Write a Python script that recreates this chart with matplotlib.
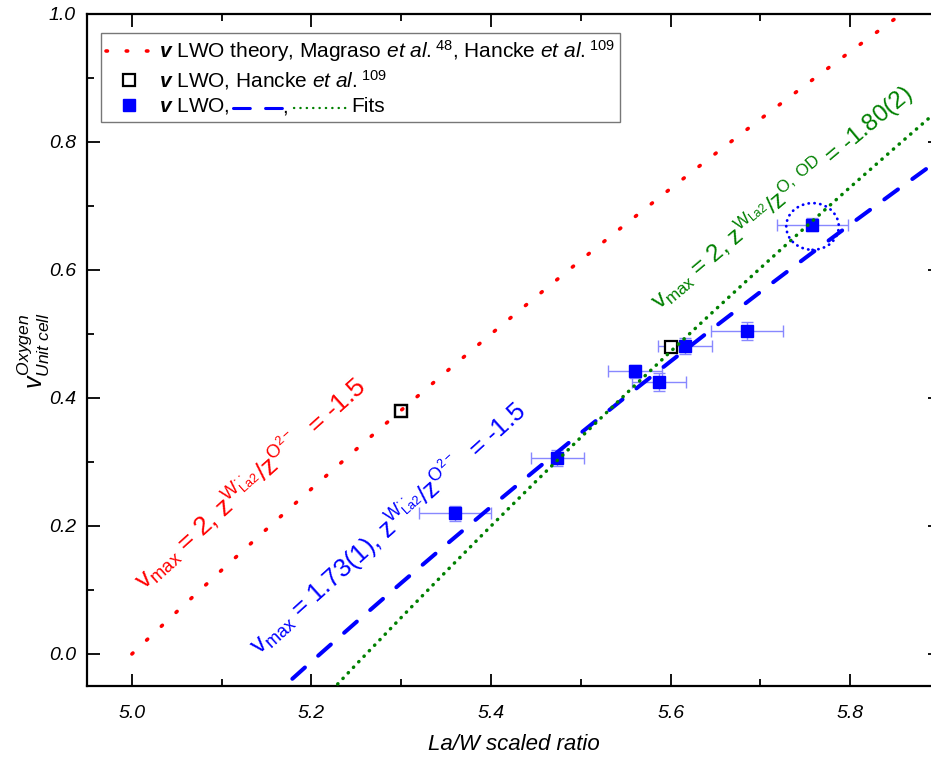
import matplotlib
matplotlib.use("Agg")
import matplotlib.pyplot as plt
from matplotlib.lines import Line2D
from matplotlib.patches import Ellipse
from matplotlib.transforms import IdentityTransform

plt.rcParams['font.family'] = 'Liberation Sans'
plt.rcParams['mathtext.fontset'] = 'custom'
plt.rcParams['mathtext.rm'] = 'Liberation Sans'
plt.rcParams['mathtext.it'] = 'Liberation Sans:italic'
plt.rcParams['mathtext.bf'] = 'Liberation Sans:bold'
plt.rcParams['mathtext.bfit'] = 'Liberation Sans:italic:bold'
plt.rcParams['mathtext.default'] = 'regular'

# measured samples, La/W ratio vs oxygen vacancies per unit cell
ratio_meas = [5.360, 5.474, 5.560, 5.587, 5.616, 5.685, 5.758]
vac_meas = [0.220, 0.306, 0.442, 0.425, 0.481, 0.505, 0.671]
ratio_err = [0.040, 0.030, 0.030, 0.030, 0.030, 0.040, 0.040]
vac_err = [0.012, 0.012, 0.010, 0.014, 0.012, 0.014, 0.010]

# Hancke et al. reference points
ratio_hancke = [5.30, 5.60]
vac_hancke = [0.380, 0.479]

# theory curve (v_max = 2)
ratio_theory = [5.00, 5.05, 5.10, 5.15, 5.20, 5.25, 5.30, 5.35, 5.40, 5.45,
                5.50, 5.55, 5.60, 5.65, 5.70, 5.75, 5.80, 5.85, 5.90]
vac_theory = [0.0000, 0.0661, 0.1311, 0.1951, 0.2581, 0.3200, 0.3810, 0.4409,
              0.5000, 0.5581, 0.6154, 0.6718, 0.7273, 0.7820, 0.8358, 0.8889,
              0.9412, 0.9927, 1.0435]

# fit with v_max = 1.73(1)
ratio_fit1 = [5.15, 5.20, 5.25, 5.30, 5.35, 5.40, 5.45, 5.50, 5.55, 5.60,
              5.65, 5.70, 5.75, 5.80, 5.85, 5.90]
vac_fit1 = [-0.0749, -0.0119, 0.0500, 0.1110, 0.1709, 0.2300, 0.2881, 0.3454,
            0.4018, 0.4573, 0.5120, 0.5658, 0.6189, 0.6712, 0.7227, 0.7735]

# fit with v_max = 2, charge ratio -1.80(2)
ratio_fit2 = [5.20, 5.25, 5.30, 5.35, 5.40, 5.45, 5.50, 5.55, 5.60, 5.65,
              5.70, 5.75, 5.80, 5.85, 5.90]
vac_fit2 = [-0.0903, -0.0160, 0.0571, 0.1291, 0.2000, 0.2698, 0.3385, 0.4061,
            0.4727, 0.5383, 0.6030, 0.6667, 0.7294, 0.7912, 0.8522]

xticks = [5.0, 5.2, 5.4, 5.6, 5.8]
yticks = [0.0, 0.2, 0.4, 0.6, 0.8, 1.0]

fig = plt.figure(figsize=(9.31, 7.58), dpi=100)
ax = fig.add_axes([87 / 931, 72 / 758, 853 / 931, 672 / 758])

ax.errorbar(ratio_meas, vac_meas, xerr=ratio_err, yerr=vac_err, fmt='none',
            ecolor='#8888ff', elinewidth=1, capsize=4.5, capthick=1, zorder=2)
pts, = ax.plot(ratio_meas, vac_meas, 's', color='blue', ms=8.5, zorder=3)
hk, = ax.plot(ratio_hancke, vac_hancke, 's', mfc='white', mec='black',
              mew=1.6, ms=8, zorder=3)

theory, = ax.plot(ratio_theory, vac_theory, color='red', lw=2.6,
                  ls=(0, (0.4, 5.2)), dash_capstyle='round', zorder=4)
ax.plot(ratio_fit1, vac_fit1, color='blue', lw=2.9, ls=(0, (4.2, 4.4)),
        dash_capstyle='round', zorder=4)
ax.plot(ratio_fit2, vac_fit2, color='green', lw=2.5, ls=(0, (0.1, 2.1)),
        dash_capstyle='round', zorder=5)

ax.add_patch(Ellipse((5.758, 0.668), 0.0585, 0.073, fill=False,
                     ec='blue', lw=2.0, ls=(0, (0.1, 2.0)),
                     capstyle='round', zorder=5))
ax.plot(ratio_hancke[0], vac_hancke[0], 's', mfc='none', mec='black',
        mew=1.6, ms=8, zorder=6)

ax.text(5.014, 0.098,
        r'$v_{max}$ = 2, $z^{W^{\bullet\bullet}_{La2}}/z^{O^{2-}}$  = -1.5',
        color='red', fontsize=19, rotation=42, rotation_mode='anchor',
        ha='left', va='baseline')
ax.text(5.142, -0.002,
        r'$v_{max}$ = 1.73(1), $z^{W^{\bullet\bullet}_{La2}}/z^{O^{2-}}$  = -1.5',
        color='blue', fontsize=18.5, rotation=42, rotation_mode='anchor',
        ha='left', va='baseline')
ax.text(5.587, 0.537,
        r'$v_{max}$ = 2, $z^{W_{La2}}/z^{O,\ OD}$ = -1.80(2)',
        color='green', fontsize=17.5, rotation=40, rotation_mode='anchor',
        ha='left', va='baseline')

ax.set_xlim(4.95, 5.9)
ax.set_ylim(-0.05, 1.0)
ax.set_xticks(xticks)
ax.set_xticklabels([f'{t:.1f}' for t in xticks], fontstyle='italic')
ax.set_yticks(yticks)
ax.set_yticklabels([f'{t:.1f}' for t in yticks], fontstyle='italic')
ax.set_xticks([5.1, 5.3, 5.5, 5.7, 5.9], minor=True)
ax.set_yticks([0.1, 0.3, 0.5, 0.7, 0.9], minor=True)
ax.tick_params(which='both', direction='in', top=True, right=True,
               labelsize=14, width=1.3)
ax.tick_params(which='major', length=9)
ax.tick_params(which='minor', length=5)
ax.tick_params(axis='x', pad=14)
ax.tick_params(axis='y', pad=8)
for s in ax.spines.values():
    s.set_linewidth(1.6)

ax.set_xlabel('La/W scaled ratio', fontsize=16, fontstyle='italic', labelpad=8)
ax.set_ylabel(r'$\mathit{v}^{\mathit{Oxygen}}_{\mathit{Unit\ cell}}$',
              fontsize=18, labelpad=-2)

labels = [
    r'$\mathbfit{v}$ LWO theory, Magraso $\mathit{et\ al.}^{48}$, '
    r'Hancke $\mathit{et\ al.}^{109}$',
    r'$\mathbfit{v}$ LWO, Hancke $\mathit{et\ al.}^{109}$',
    r'$\mathbfit{v}$ LWO,',
]
leg = ax.legend([theory, hk, pts], labels, loc='upper left',
                bbox_to_anchor=(0.011, 0.978), fontsize=15, frameon=True,
                fancybox=False, edgecolor='#777777', framealpha=1,
                handlelength=2.2, handletextpad=0.35, borderpad=0.25,
                labelspacing=0.2, borderaxespad=0.2)
leg.get_frame().set_linewidth(1.0)

# line samples inside the third legend entry
fig.canvas.draw()
bb = leg.get_texts()[2].get_window_extent()
yc = bb.y0 + 0.40 * bb.height
x0 = bb.x1
fig.add_artist(Line2D([x0 + 3, x0 + 52], [yc, yc], transform=IdentityTransform(),
                      color='blue', lw=2.2, ls=(0, (5.5, 5.0)),
                      dash_capstyle='round'))
fig.text(x0 + 53, bb.y0 + 4, ',', transform=IdentityTransform(), fontsize=15,
         va='baseline')
fig.add_artist(Line2D([x0 + 64, x0 + 118], [yc, yc],
                      transform=IdentityTransform(), color='green', lw=1.7,
                      ls=(0, (0.1, 2.6)), dash_capstyle='round'))
fig.text(x0 + 122, bb.y0 + 4, 'Fits', transform=IdentityTransform(),
         fontsize=15, va='baseline')

fig.savefig('out.png', dpi=100)
